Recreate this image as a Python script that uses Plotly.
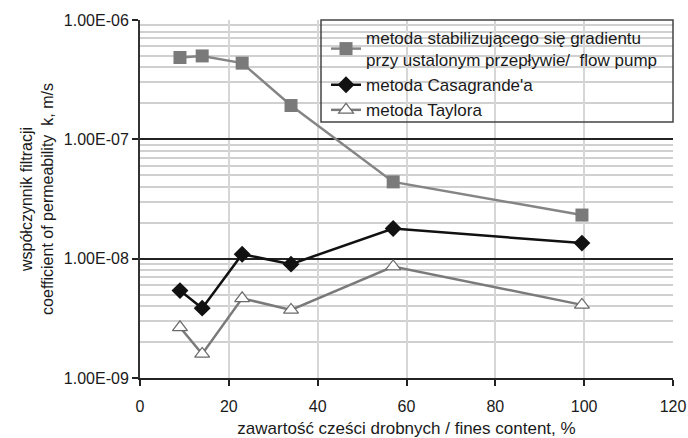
import plotly.graph_objects as go

fines = [9, 14, 23, 34, 57, 99.5]
k_flow_pump = [4.85e-7, 5.0e-7, 4.35e-7, 1.92e-7, 4.4e-8, 2.32e-8]
k_casagrande = [5.4e-9, 3.85e-9, 1.09e-8, 9.0e-9, 1.79e-8, 1.35e-8]
k_taylor = [2.66e-9, 1.59e-9, 4.65e-9, 3.72e-9, 8.6e-9, 4.1e-9]

names = [
    "metoda stabilizującego się gradientu<br>przy ustalonym przepływie/  flow pump",
    "metoda Casagrande'a",
    "metoda Taylora",
]

y_tickvals = [1e-9, 1e-8, 1e-7, 1e-6]
y_ticktext = ["1.00E-09", "1.00E-08", "1.00E-07", "1.00E-06"]
x_tickvals = [0, 20, 40, 60, 80, 100, 120]
minor_mult = [2, 3, 4, 5, 6, 7, 8, 9]
decades = [1e-9, 1e-8, 1e-7]
minor_vals = [d * m for d in decades for m in minor_mult]

FONT = "Liberation Sans, Arial, sans-serif"
TXT = "#1a1a1a"

fig = go.Figure()
fig.add_trace(go.Scatter(
    x=fines, y=k_flow_pump, name=names[0], mode="lines+markers",
    line=dict(color="#858585", width=2.5),
    marker=dict(symbol="square", size=13, color="#7a7a7a", line=dict(width=0)),
))
fig.add_trace(go.Scatter(
    x=fines, y=k_casagrande, name=names[1], mode="lines+markers",
    line=dict(color="#111111", width=2.5),
    marker=dict(symbol="diamond", size=13, color="#111111", line=dict(width=0)),
))
fig.add_trace(go.Scatter(
    x=fines, y=k_taylor, name=names[2], mode="lines+markers",
    line=dict(color="#7a7a7a", width=2.5),
    marker=dict(symbol="triangle-up", size=13, color="white", line=dict(color="#6a6a6a", width=1.2)),
))

fig.update_layout(
    width=688, height=438,
    margin=dict(l=140, r=15, t=20, b=60, autoexpand=False),
    paper_bgcolor="white", plot_bgcolor="white",
    font=dict(family=FONT, size=15, color=TXT),
    legend=dict(
        x=0.349, y=1.0, xanchor="left", yanchor="top",
        bgcolor="rgba(0,0,0,0)", borderwidth=0,
        font=dict(size=17, color=TXT), tracegroupgap=0,
        itemwidth=30,
    ),
    shapes=[dict(type="rect", xref="paper", yref="paper",
                 x0=0.3396, x1=1.0, y0=0.715, y1=1.0,
                 line=dict(color="#444444", width=1.5), fillcolor="rgba(0,0,0,0)")],
)

fig.update_xaxes(
    range=[0, 120], tickvals=x_tickvals, automargin=False,
    showgrid=True, gridcolor="#d6d6d6", gridwidth=2,
    showline=True, linecolor="#222222", linewidth=2,
    ticks="outside", ticklen=6, tickwidth=2, tickcolor="#222222",
    tickfont=dict(size=16, color=TXT), ticklabelstandoff=7,
    title=dict(text="zawartość cześci drobnych / fines content, %", font=dict(size=17, color=TXT), standoff=14),
    zeroline=False,
)
fig.update_yaxes(
    type="log", range=[-9, -6], automargin=False,
    tickvals=y_tickvals, ticktext=y_ticktext,
    showgrid=True, gridcolor="#222222", gridwidth=1.5,
    showline=True, linecolor="#333333", linewidth=2,
    ticks="outside", ticklen=6, tickwidth=2, tickcolor="#222222",
    tickfont=dict(size=16, color=TXT),
    minor=dict(tickvals=minor_vals, showgrid=True, gridcolor="#d0d0d0", gridwidth=1.5, ticks=""),
    title=dict(text="współczynnik filtracji<br>coefficient of permeability  k, m/s", font=dict(size=16, color=TXT), standoff=6),
    zeroline=False,
)

fig.write_html(
    "out.html",
    config={"displayModeBar": False},
    post_script="document.body.style.margin='0';document.body.style.overflow='hidden';",
)
